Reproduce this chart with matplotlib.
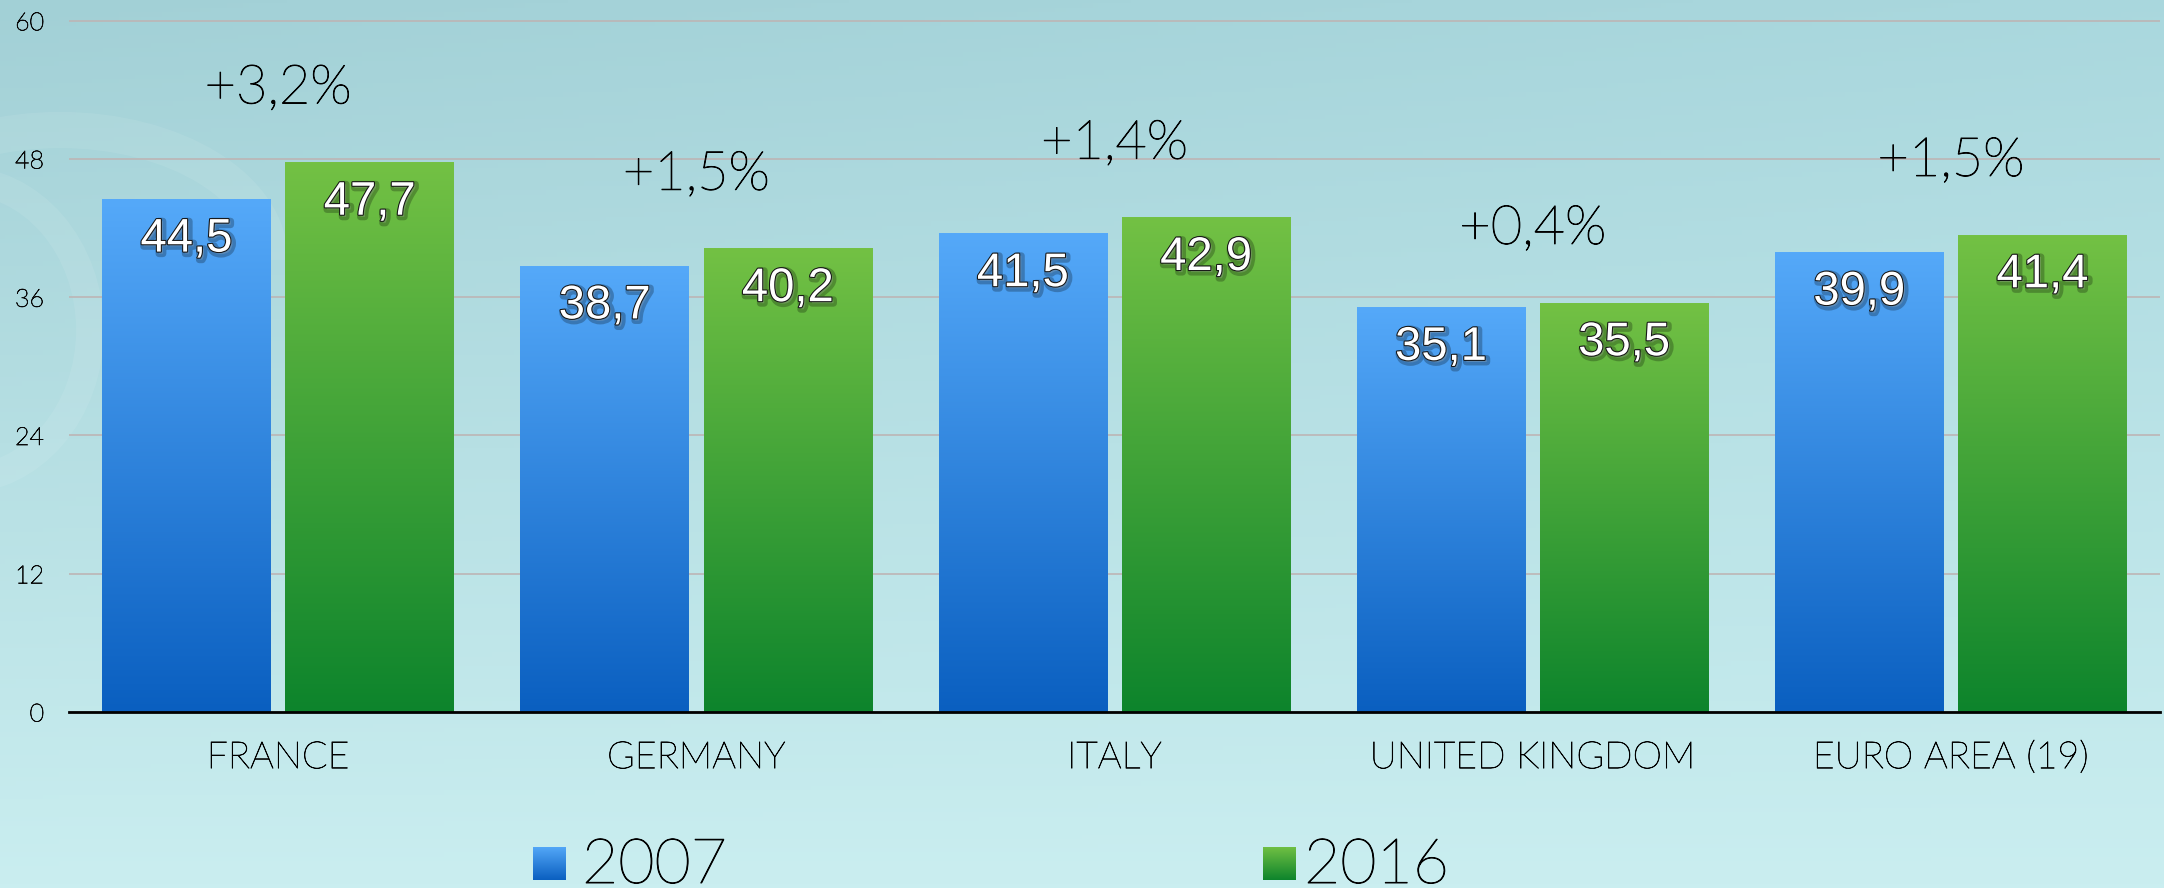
import matplotlib.pyplot as plt
import matplotlib.patheffects as pe
import numpy as np
from matplotlib.colors import LinearSegmentedColormap
from matplotlib.patches import Arc

# Data
countries = ['FRANCE', 'GERMANY', 'ITALY', 'UNITED KINGDOM', 'EURO AREA (19)']
values_2007 = [44.5, 38.7, 41.5, 35.1, 39.9]
values_2016 = [47.7, 40.2, 42.9, 35.5, 41.4]
years = ['2007', '2016']
y_ticks = [0, 12, 24, 36, 48, 60]

# Styles
BLUE = LinearSegmentedColormap.from_list('blue', ['#0a5fc0', '#55a9f9'])
GREEN = LinearSegmentedColormap.from_list('green', ['#0d842c', '#73c144'])
THIN = ['Lato', 'Roboto', 'DejaVu Sans']
VALUE_FONT = ['Liberation Sans', 'DejaVu Sans']
W, H = 2164, 888
# thin font drawn a touch heavier so it reads black, like the reference
DARKEN = [pe.Stroke(linewidth=0.7, foreground='black'), pe.Normal()]


def fmt(v):
    return f'{v:.1f}'.replace('.', ',')


fig = plt.figure(figsize=(W / 100, H / 100), dpi=100)

# background gradient + faint swirls
bg = fig.add_axes([0, 0, 1, 1], zorder=-10)
yy, xx = np.mgrid[0:1:200j, 0:1:400j]
top = np.array([162, 208, 214]) / 255
bottom = np.array([202, 238, 240]) / 255
img = top[None, None, :] * (1 - yy[..., None]) + bottom[None, None, :] * yy[..., None]
img = img + 0.03 * (xx * (1 - yy))[..., None]
bg.imshow(np.clip(img, 0, 1), extent=[0, W, H, 0], aspect='auto')
for (cx, cy, ww, hh, t1, t2, lw) in [(60, 260, 420, 260, 180, 360, 26),
                                     (-40, 330, 260, 300, 270, 450, 20),
                                     (520, 500, 600, 1100, 150, 200, 30)]:
    bg.add_patch(Arc((cx, cy), ww, hh, theta1=t1, theta2=t2, color='white', alpha=0.08, lw=lw))
bg.set_xlim(0, W)
bg.set_ylim(H, 0)
bg.axis('off')

# main chart
ax = fig.add_axes([69 / W, 176 / H, (2160 - 69) / W, 712 / H])
ax.patch.set_alpha(0)

x = np.arange(len(countries))
bw = 0.403
off = 0.219
grad = np.linspace(0, 1, 256).reshape(-1, 1)

for vals, shift, cmap in [(values_2007, -off, BLUE), (values_2016, off, GREEN)]:
    bars = ax.bar(x + shift, vals, bw, color='none', zorder=2)
    for rect, v in zip(bars, vals):
        x0 = rect.get_x()
        ax.imshow(grad, extent=[x0, x0 + rect.get_width(), 0, rect.get_height()],
                  origin='lower', aspect='auto', cmap=cmap, zorder=2)
        ax.annotate(fmt(v), (x0 + rect.get_width() / 2, v), xytext=(0, -29),
                    textcoords='offset points', ha='center', va='center',
                    color='white', fontsize=34, family=VALUE_FONT, zorder=5,
                    path_effects=[pe.Stroke(linewidth=5, foreground='black', alpha=0.25, offset=(1.5, -1.5)),
                                  pe.Stroke(linewidth=1.5, foreground='#151515'),
                                  pe.Normal()])

# change labels above each group
for i, (a, b) in enumerate(zip(values_2007, values_2016)):
    ax.annotate(f'+{fmt(b - a)}%', (i, max(a, b)), xytext=(0, 53),
                textcoords='offset points', ha='center', va='center',
                fontsize=39, family=THIN, fontweight='light', color='black', zorder=5,
                path_effects=DARKEN)

ax.set_xlim(-0.5, len(countries) - 0.5)
ax.set_ylim(0, 61.8)
ax.set_yticks(y_ticks)
ax.set_yticklabels([str(t) for t in y_ticks], fontsize=18, family=THIN,
                   fontweight='light', color='#222222')
ax.set_xticks(x)
ax.set_xticklabels(countries, fontsize=27, family=THIN, fontweight='light', color='black')
for lbl in ax.get_xticklabels() + ax.get_yticklabels():
    lbl.set_path_effects([pe.Stroke(linewidth=0.5, foreground='black'), pe.Normal()])
ax.tick_params(axis='y', length=0, pad=18)
ax.tick_params(axis='x', length=0, pad=21)
ax.yaxis.grid(True, color='#bdb5b5', lw=1.2)
ax.set_axisbelow(True)
for s in ['top', 'right', 'left']:
    ax.spines[s].set_visible(False)
ax.spines['bottom'].set_color('black')
ax.spines['bottom'].set_linewidth(2)
ax.spines['bottom'].set_zorder(4)

# legend
for label, cmap, mx, tx in [(years[0], BLUE, 533, 582), (years[1], GREEN, 1263, 1304)]:
    lax = fig.add_axes([mx / W, 8 / H, 33 / W, 33 / H])
    lax.imshow(grad, origin='lower', aspect='auto', cmap=cmap)
    lax.axis('off')
    fig.text(tx / W, 5 / H, label, fontsize=45, family=THIN, fontweight='light',
             color='black', va='baseline', ha='left', path_effects=DARKEN)

plt.savefig('out.png', dpi=100)
